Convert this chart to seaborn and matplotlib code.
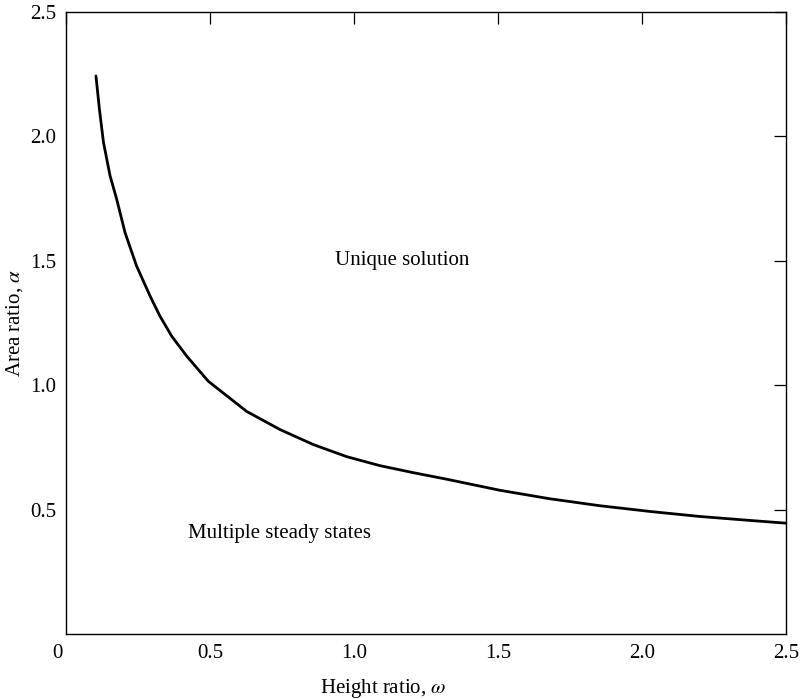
import matplotlib
matplotlib.use("Agg")
import matplotlib.pyplot as plt
import matplotlib.transforms as mtransforms
import seaborn as sns
import pandas as pd

# Data
omega = [0.104, 0.116, 0.130, 0.153, 0.176, 0.205, 0.245, 0.292, 0.326, 0.367,
         0.419, 0.494, 0.627, 0.743, 0.858, 0.975, 1.09, 1.205, 1.32, 1.507,
         1.68, 1.854, 2.028, 2.2, 2.375, 2.5]
alpha = [2.243, 2.11, 1.977, 1.842, 1.748, 1.614, 1.480, 1.359, 1.279, 1.198,
         1.118, 1.017, 0.896, 0.823, 0.763, 0.714, 0.678, 0.65, 0.624, 0.579,
         0.545, 0.517, 0.494, 0.474, 0.458, 0.447]
x_ticks = [0, 0.5, 1.0, 1.5, 2.0, 2.5]
x_tick_labels = ["0", "0.5", "1.0", "1.5", "2.0", "2.5"]
y_ticks = [0.5, 1.0, 1.5, 2.0, 2.5]
y_tick_labels = ["0.5", "1.0", "1.5", "2.0", "2.5"]

sns.set_theme(style="white")
plt.rcParams["font.family"] = ["Liberation Serif", "DejaVu Serif"]
plt.rcParams["mathtext.fontset"] = "stix"

df = pd.DataFrame({"omega": omega, "alpha": alpha})

fig = plt.figure(figsize=(8.0, 6.99), dpi=100)
ax = fig.add_axes([0.0825, 0.0923, 0.9, 0.8906])
sns.lineplot(data=df, x="omega", y="alpha", ax=ax, color="black", linewidth=2.0)

ax.set_xlim(0, 2.5)
ax.set_ylim(0, 2.5)
ax.set_xticks(x_ticks)
ax.set_xticklabels(x_tick_labels)
ax.set_yticks(y_ticks)
ax.set_yticklabels(y_tick_labels)
ax.tick_params(direction="in", length=8.5, width=0.9, top=True, right=True,
               labelsize=15, colors="black", pad=7)
for s in ax.spines.values():
    s.set_visible(True)
    s.set_color("black")
    s.set_linewidth(1.0)

# shift the "0" tick label left of the corner
lbls = ax.get_xticklabels()
offset = mtransforms.ScaledTranslation(-9 / 100, 0, fig.dpi_scale_trans)
lbls[0].set_transform(lbls[0].get_transform() + offset)

ax.set_xlabel(r"Height ratio, $\omega$", fontsize=15, color="black")
ax.xaxis.set_label_coords(0.44, -0.068)
ax.set_ylabel(r"Area ratio, $\alpha$", fontsize=15, color="black", labelpad=4)

ax.text(1.167, 1.50, "Unique solution", fontsize=15, ha="center", va="center", color="black")
ax.text(0.74, 0.404, "Multiple steady states", fontsize=15, ha="center", va="center", color="black")

fig.savefig("out.png", dpi=100)
